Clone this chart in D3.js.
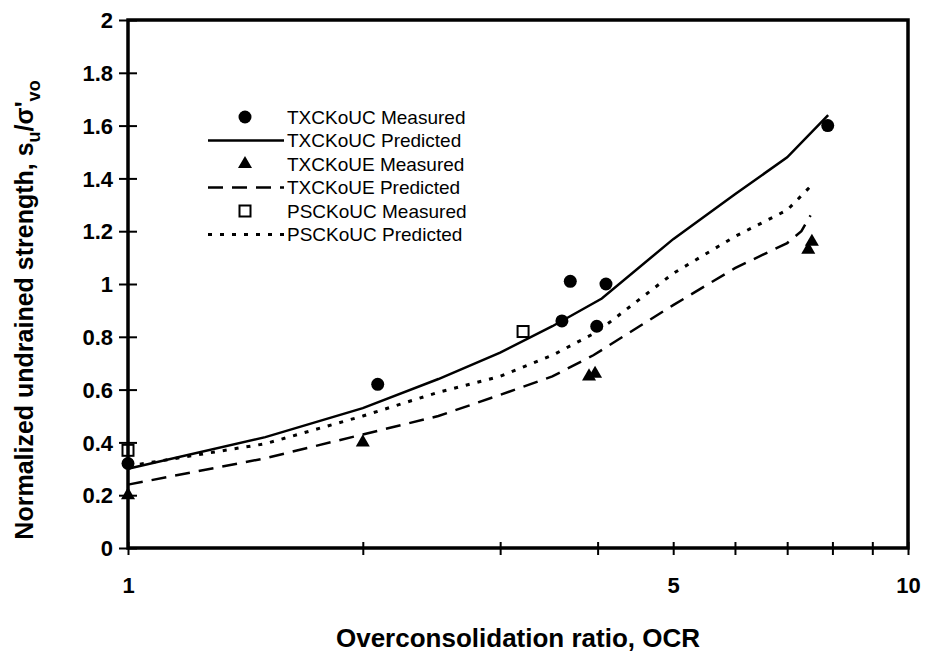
<!DOCTYPE html>
<html>
<head>
<meta charset="utf-8">
<script src="https://cdn.jsdelivr.net/npm/d3@7"></script>
<style>
  body { margin: 0; background: #fff; }
  svg { display: block; font-family: "Liberation Sans", Arial, sans-serif; }
  .legend text { font-size: 19px; }
</style>
</head>
<body>
<svg id="chart" width="925" height="657"></svg>
<script>
// ======= data =======
const ucMeasOCR = [1, 2.09, 3.6, 3.69, 3.99, 4.1, 7.89];
const ucMeasSu  = [0.32, 0.62, 0.86, 1.01, 0.84, 1.0, 1.6];

const ueMeasOCR = [1, 2.0, 3.9, 3.97, 7.45, 7.53];
const ueMeasSu  = [0.2, 0.4, 0.65, 0.66, 1.13, 1.16];

const pscMeasOCR = [1, 3.21];
const pscMeasSu  = [0.37, 0.82];

const ucPredOCR = [1, 1.5, 2, 2.5, 3, 3.5, 4.05, 5, 6, 7, 7.9];
const ucPredSu  = [0.30, 0.42, 0.53, 0.64, 0.74, 0.84, 0.945, 1.17, 1.34, 1.48, 1.64];

const uePredOCR = [1, 1.5, 2, 2.5, 3, 3.5, 3.95, 5, 6, 7, 7.3, 7.5];
const uePredSu  = [0.24, 0.34, 0.43, 0.50, 0.58, 0.65, 0.73, 0.92, 1.06, 1.155, 1.2, 1.26];

const pscPredOCR = [1, 1.5, 2, 2.5, 3, 3.5, 4, 5, 6, 7, 7.5];
const pscPredSu  = [0.31, 0.395, 0.50, 0.59, 0.65, 0.73, 0.82, 1.04, 1.18, 1.28, 1.37];

const xTicks = [1, 2, 3, 4, 5, 6, 7, 8, 9, 10];
const xTickLabels = ['1', '', '', '', '5', '', '', '', '', '10'];
const yTicks = [0, 0.2, 0.4, 0.6, 0.8, 1, 1.2, 1.4, 1.6, 1.8, 2];
const yTickLabels = ['0', '0.2', '0.4', '0.6', '0.8', '1', '1.2', '1.4', '1.6', '1.8', '2'];

const legendItems = [
  { label: 'TXCKoUC Measured', type: 'circle' },
  { label: 'TXCKoUC Predicted', type: 'solid' },
  { label: 'TXCKoUE Measured', type: 'triangle' },
  { label: 'TXCKoUE Predicted', type: 'dashed' },
  { label: 'PSCKoUC Measured', type: 'square' },
  { label: 'PSCKoUC Predicted', type: 'dotted' }
];

// ======= layout =======
let margin = { top: 20, right: 17, bottom: 109, left: 128 };
let width = 925 - margin.left - margin.right;
let height = 657 - margin.top - margin.bottom;
let fontFamily = '"Liberation Sans", Arial, sans-serif';

let svg = d3.select('#chart');
let g = svg.append('g')
  .attr('transform', 'translate(' + margin.left + ',' + margin.top + ')');

let x = d3.scaleLog().domain([1, 10]).range([0, width]);
let y = d3.scaleLinear().domain([0, 2]).range([height, 0]);

function zip(xs, ys) {
  return xs.map((v, i) => ({ ocr: v, su: ys[i] }));
}

let dashStyles = { solid: null, dashed: '15,9', dotted: '4,8' };

// ======= lines =======
let line = d3.line()
  .x(d => x(d.ocr))
  .y(d => y(d.su));

[[ucPredOCR, ucPredSu, 'solid'], [uePredOCR, uePredSu, 'dashed'], [pscPredOCR, pscPredSu, 'dotted']]
  .forEach(function (s) {
    g.append('path')
      .datum(zip(s[0], s[1]))
      .attr('fill', 'none')
      .attr('stroke', '#000')
      .attr('stroke-width', s[2] === 'dotted' ? 3 : 2.5)
      .attr('stroke-dasharray', dashStyles[s[2]])
      .attr('d', line);
  });

// ======= markers =======
let triSym = d3.symbol().type(d3.symbolTriangle).size(85);

g.append('g').selectAll('circle')
  .data(zip(ucMeasOCR, ucMeasSu))
  .enter()
  .append('circle')
  .attr('cx', d => x(d.ocr))
  .attr('cy', d => y(d.su))
  .attr('r', 6.5)
  .attr('fill', '#000');

g.append('g').selectAll('path')
  .data(zip(ueMeasOCR, ueMeasSu))
  .enter()
  .append('path')
  .attr('d', triSym)
  .attr('transform', d => 'translate(' + x(d.ocr) + ',' + y(d.su) + ')')
  .attr('fill', '#000');

g.append('g').selectAll('rect')
  .data(zip(pscMeasOCR, pscMeasSu))
  .enter()
  .append('rect')
  .attr('x', d => x(d.ocr) - 5.5)
  .attr('y', d => y(d.su) - 5.5)
  .attr('width', 11)
  .attr('height', 11)
  .attr('fill', '#fff')
  .attr('stroke', '#000')
  .attr('stroke-width', 2);

// ======= axes =======
let xAxis = d3.axisBottom(x)
  .tickValues(xTicks)
  .tickSize(0)
  .tickFormat((d, i) => xTickLabels[i]);
let xg = g.append('g')
  .attr('transform', 'translate(0,' + height + ')')
  .call(xAxis);
xg.select('.domain').remove();
xg.selectAll('text')
  .style('font-family', fontFamily)
  .style('font-weight', 'bold')
  .style('font-size', '22px')
  .attr('fill', '#000')
  .attr('dy', null)
  .attr('y', 45);
xg.selectAll('.tick').append('line')
  .attr('y1', -6).attr('y2', 7)
  .attr('stroke', '#000').attr('stroke-width', 2);

let yAxis = d3.axisLeft(y)
  .tickValues(yTicks)
  .tickSize(0)
  .tickFormat((d, i) => yTickLabels[i]);
let yg = g.append('g').call(yAxis);
yg.select('.domain').remove();
yg.selectAll('text')
  .style('font-family', fontFamily)
  .style('font-weight', 'bold')
  .style('font-size', '22px')
  .attr('fill', '#000')
  .attr('x', -15)
  .attr('dy', '0.35em');
yg.selectAll('.tick').append('line')
  .attr('x1', -9).attr('x2', 9)
  .attr('stroke', '#000').attr('stroke-width', 2);

// frame
g.append('rect')
  .attr('width', width)
  .attr('height', height)
  .attr('fill', 'none')
  .attr('stroke', '#000')
  .attr('stroke-width', 3.5);

// ======= axis titles =======
svg.append('text')
  .attr('x', margin.left + width / 2)
  .attr('y', 647)
  .attr('text-anchor', 'middle')
  .style('font-weight', 'bold')
  .style('font-size', '26px')
  .text('Overconsolidation ratio, OCR');

let yTitle = svg.append('text')
  .attr('transform', 'translate(33,310) rotate(-90)')
  .attr('text-anchor', 'middle')
  .style('font-weight', 'bold')
  .style('font-size', '25px');
yTitle.append('tspan').text('Normalized undrained strength, s');
yTitle.append('tspan').attr('dy', 7).style('font-size', '18px').text('u');
yTitle.append('tspan').attr('dy', -7).text('/\u03c3\'');
yTitle.append('tspan').attr('dy', 7).style('font-size', '18px').text('vo');

// ======= legend =======
let legendRow = 23.5;
let legend = g.append('g')
  .attr('class', 'legend')
  .attr('transform', 'translate(80,97)');

legendItems.forEach(function (item, i) {
  let row = legend.append('g').attr('transform', 'translate(0,' + (i * legendRow) + ')');
  let cx = 37;
  if (item.type === 'circle') {
    row.append('circle').attr('cx', cx).attr('cy', 0).attr('r', 6.5).attr('fill', '#000');
  } else if (item.type === 'triangle') {
    row.append('path').attr('d', triSym).attr('transform', 'translate(' + cx + ',0)').attr('fill', '#000');
  } else if (item.type === 'square') {
    row.append('rect').attr('x', cx - 5.5).attr('y', -5.5).attr('width', 11).attr('height', 11)
      .attr('fill', '#fff').attr('stroke', '#000').attr('stroke-width', 2);
  } else {
    row.append('line')
      .attr('x1', 0).attr('x2', 76).attr('y1', 0).attr('y2', 0)
      .attr('stroke', '#000')
      .attr('stroke-width', item.type === 'dotted' ? 3 : 2.5)
      .attr('stroke-dasharray', dashStyles[item.type]);
  }
  row.append('text')
    .attr('x', 79)
    .attr('y', 0)
    .attr('dy', '0.35em')
    .text(item.label);
});
</script>
</body>
</html>
